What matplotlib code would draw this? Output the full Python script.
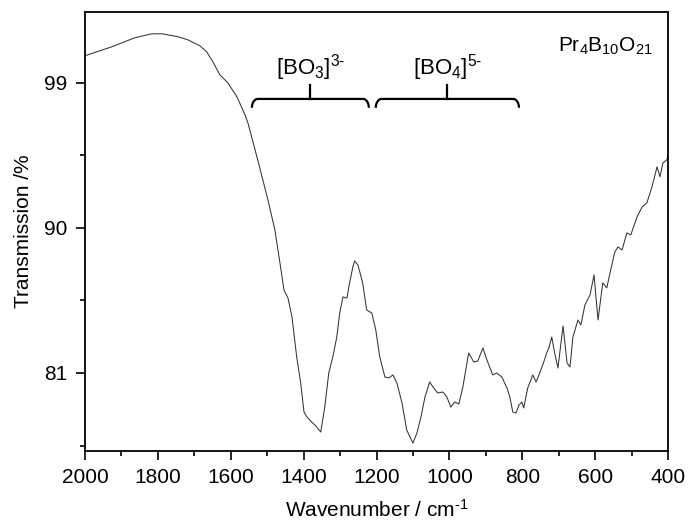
import numpy as np
import matplotlib
matplotlib.use("Agg")
import matplotlib.pyplot as plt

plt.rcParams['font.family'] = ['Liberation Sans', 'DejaVu Sans']
plt.rcParams['mathtext.fontset'] = 'custom'
plt.rcParams['mathtext.rm'] = 'Liberation Sans'
plt.rcParams['mathtext.it'] = 'Liberation Sans:italic'
plt.rcParams['axes.unicode_minus'] = False

# --- IR spectrum ---
wavenumber = [2000, 1927, 1864, 1817, 1789, 1745, 1718, 1685, 1666, 1649,
              1630, 1608, 1583, 1561, 1553, 1526, 1498, 1479, 1465, 1454,
              1443, 1432, 1419, 1408, 1399, 1391, 1378, 1369, 1353, 1342,
              1331, 1320, 1309, 1301, 1292, 1281, 1276, 1265, 1260, 1251,
              1238, 1227, 1213, 1202, 1191, 1177, 1166, 1155, 1144, 1130,
              1117, 1100, 1089, 1078, 1067, 1054, 1045, 1032, 1018, 1007,
              996, 985, 974, 963, 947, 933, 922, 908, 897, 881,
              870, 856, 842, 834, 826, 817, 809, 801, 796, 785,
              771, 762, 752, 741, 732, 727, 719, 710, 702, 688,
              677, 669, 661, 647, 639, 628, 614, 603, 592, 579,
              568, 559, 546, 537, 526, 513, 502, 485, 471, 458,
              444, 430, 422, 414, 403, 400]
transmission = [100.68, 101.23, 101.79, 102.04, 102.04, 101.86, 101.67, 101.30, 100.92, 100.30,
                99.50, 99.00, 98.13, 97.01, 96.52, 94.22, 91.74, 89.88, 87.83, 86.15,
                85.65, 84.48, 81.99, 80.38, 78.58, 78.27, 77.96, 77.77, 77.34, 78.89,
                81.00, 81.99, 83.23, 84.72, 85.72, 85.65, 86.34, 87.58, 87.95, 87.70,
                86.59, 84.91, 84.72, 83.67, 81.99, 80.75, 80.69, 80.88, 80.38, 79.14,
                77.46, 76.65, 77.28, 78.27, 79.51, 80.44, 80.13, 79.76, 79.82, 79.51,
                78.89, 79.20, 79.08, 80.13, 82.24, 81.68, 81.74, 82.55, 81.81, 80.88,
                81.00, 80.75, 80.07, 79.51, 78.58, 78.52, 79.01, 79.20, 78.83, 80.07,
                80.88, 80.44, 81.00, 81.68, 82.30, 82.55, 83.23, 82.12, 81.31, 83.92,
                81.62, 81.37, 83.23, 84.29, 83.98, 85.22, 85.84, 87.08, 84.29, 86.59,
                86.28, 87.21, 88.51, 88.82, 88.63, 89.69, 89.57, 90.68, 91.30, 91.55,
                92.54, 93.79, 93.17, 94.03, 94.22, 94.53]

# band groups: label, start, end (cm-1)
groups = [(r'[BO$_3$]$^{\text{3-}}$', 1542, 1221),
          (r'[BO$_4$]$^{\text{5-}}$', 1202, 809)]
compound = r'Pr$_4$B$_{10}$O$_{21}$'

fig = plt.figure(figsize=(6.89, 5.24), dpi=100)
ax = fig.add_axes([0.1234, 0.1393, 0.8461, 0.8377])

ax.plot(wavenumber, transmission, color='#333333', lw=0.75,
        solid_joinstyle='round')

ax.set_xlim(2000, 400)
ax.set_ylim(76.16, 103.39)
ax.set_xticks([2000, 1800, 1600, 1400, 1200, 1000, 800, 600, 400])
ax.set_xticks(np.arange(1900, 400, -200), minor=True)
ax.set_yticks([81, 90, 99])
ax.set_yticks([76.5, 85.5, 94.5], minor=True)

for s in ax.spines.values():
    s.set_linewidth(1.3)
ax.tick_params(which='major', direction='out', length=6.5, width=1.2,
               labelsize=15, pad=6)
ax.tick_params(which='minor', direction='out', length=3.5, width=1.2)

ax.set_xlabel('Wavenumber / cm$^{\\text{-1}}$', fontsize=15, labelpad=8)
ax.set_ylabel('Transmission /%', fontsize=15, labelpad=8)

# curly brackets above the band groups
y_top, y_stem = 98.0, 98.88
rx, ry = 16, 0.55
t = np.linspace(0, np.pi / 2, 20)
for label, x1, x2 in groups:
    left_x = x1 - rx + rx * np.cos(t)
    left_y = y_top - ry + ry * np.sin(t)
    right_x = x2 + rx - rx * np.cos(t[::-1])
    right_y = y_top - ry + ry * np.sin(t[::-1])
    bx = np.concatenate([left_x, right_x])
    by = np.concatenate([left_y, right_y])
    ax.plot(bx, by, color='black', lw=1.6, solid_capstyle='butt')
    xm = (x1 + x2) / 2
    ax.plot([xm, xm], [y_top, y_stem], color='black', lw=1.6)
    ax.text(xm, y_stem + 0.1, label, fontsize=16, ha='center', va='bottom')

ax.text(0.974, 0.922, compound, transform=ax.transAxes, fontsize=15,
        ha='right', va='center')

fig.savefig('out.png', dpi=100)
